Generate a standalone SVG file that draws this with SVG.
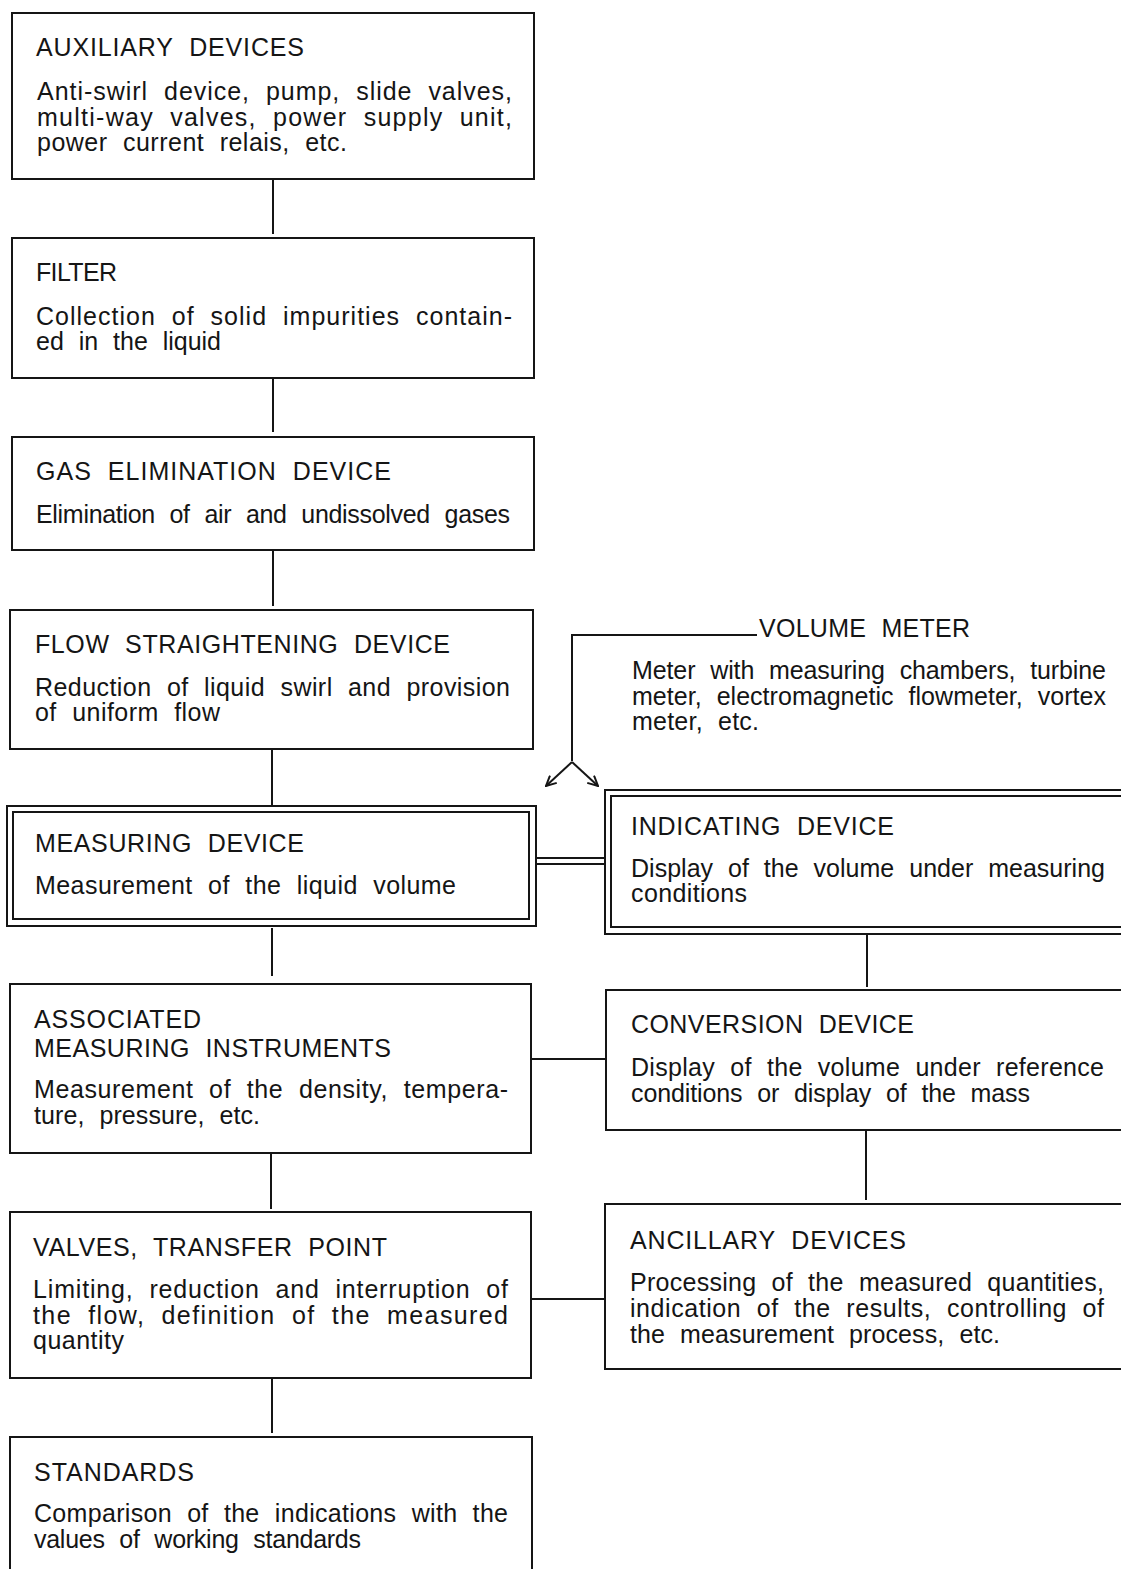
<svg xmlns="http://www.w3.org/2000/svg" width="1121" height="1569" viewBox="0 0 1121 1569">
<style>
.bx{fill:none;stroke:#151515;stroke-width:2}
.ln{fill:none;stroke:#151515;stroke-width:2}
.t{font-family:"Liberation Sans",Arial,sans-serif;font-size:25px;fill:#151515;word-spacing:8px}
</style>
<defs>
<marker id="ah" viewBox="0 0 12 12" refX="11" refY="6" markerWidth="12" markerHeight="12" markerUnits="userSpaceOnUse" orient="auto">
<path d="M1,1 L11,6 L1,11" fill="none" stroke="#151515" stroke-width="2"/>
</marker>
</defs>
<rect width="1121" height="1569" fill="#fff"/>

<g id="connectors">
<line class="ln" x1="273" y1="179" x2="273" y2="234"/>
<line class="ln" x1="273" y1="378" x2="273" y2="432"/>
<line class="ln" x1="273" y1="550" x2="273" y2="606"/>
<line class="ln" x1="272" y1="749" x2="272" y2="805"/>
<line class="ln" x1="272" y1="928" x2="272" y2="976"/>
<line class="ln" x1="271" y1="1153" x2="271" y2="1209"/>
<line class="ln" x1="272" y1="1378" x2="272" y2="1433"/>
<line class="ln" x1="535" y1="858" x2="605" y2="858" stroke-width="1.5"/>
<line class="ln" x1="535" y1="864" x2="605" y2="864" stroke-width="1.5"/>
<line class="ln" x1="867" y1="934" x2="867" y2="987"/>
<line class="ln" x1="866" y1="1130" x2="866" y2="1200"/>
<line class="ln" x1="531" y1="1059" x2="606" y2="1059"/>
<line class="ln" x1="531" y1="1299" x2="605" y2="1299"/>
<polyline class="ln" points="757,635 572,635 572,761"/>
<line class="ln" x1="572" y1="762" x2="546" y2="786" marker-end="url(#ah)"/>
<line class="ln" x1="572" y1="762" x2="598" y2="786" marker-end="url(#ah)"/>
</g>

<g id="auxiliary">
<rect class="bx" x="12" y="13" width="522" height="166"/>
<text class="t" x="36" y="56" textLength="268" lengthAdjust="spacing">AUXILIARY DEVICES</text>
<text class="t" x="37" y="100" textLength="475" lengthAdjust="spacing">Anti-swirl device, pump, slide valves,</text>
<text class="t" x="37" y="126" textLength="475" lengthAdjust="spacing">multi-way valves, power supply unit,</text>
<text class="t" x="37" y="151" textLength="310" lengthAdjust="spacing">power current relais, etc.</text>
</g>

<g id="filter">
<rect class="bx" x="12" y="238" width="522" height="140"/>
<text class="t" x="36" y="281" textLength="81" lengthAdjust="spacing">FILTER</text>
<text class="t" x="36" y="325" textLength="476" lengthAdjust="spacing">Collection of solid impurities contain-</text>
<text class="t" x="36" y="350" textLength="185" lengthAdjust="spacing">ed in the liquid</text>
</g>

<g id="gas">
<rect class="bx" x="12" y="437" width="522" height="113"/>
<text class="t" x="36" y="480" textLength="355" lengthAdjust="spacing">GAS ELIMINATION DEVICE</text>
<text class="t" x="36" y="523" textLength="474" lengthAdjust="spacing">Elimination of air and undissolved gases</text>
</g>

<g id="flow">
<rect class="bx" x="10" y="610" width="523" height="139"/>
<text class="t" x="35" y="653" textLength="415" lengthAdjust="spacing">FLOW STRAIGHTENING DEVICE</text>
<text class="t" x="35" y="696" textLength="475" lengthAdjust="spacing">Reduction of liquid swirl and provision</text>
<text class="t" x="35" y="721" textLength="185" lengthAdjust="spacing">of uniform flow</text>
</g>

<g id="measuring">
<rect class="bx" x="7" y="806" width="529" height="120" stroke-width="1.5"/>
<rect class="bx" x="13" y="812" width="516" height="107" stroke-width="1.5"/>
<text class="t" x="35" y="852" textLength="269" lengthAdjust="spacing">MEASURING DEVICE</text>
<text class="t" x="35" y="894" textLength="421" lengthAdjust="spacing">Measurement of the liquid volume</text>
</g>

<g id="volume-meter">
<text class="t" x="759" y="637" textLength="211" lengthAdjust="spacing">VOLUME METER</text>
<text class="t" x="632" y="679" textLength="474" lengthAdjust="spacing">Meter with measuring chambers, turbine</text>
<text class="t" x="632" y="705" textLength="474" lengthAdjust="spacing">meter, electromagnetic flowmeter, vortex</text>
<text class="t" x="632" y="730" textLength="127" lengthAdjust="spacing">meter, etc.</text>
</g>

<g id="indicating">
<rect class="bx" x="605" y="790" width="530" height="144" stroke-width="1.5"/>
<rect class="bx" x="611" y="796" width="520" height="131" stroke-width="1.5"/>
<text class="t" x="631" y="835" textLength="263" lengthAdjust="spacing">INDICATING DEVICE</text>
<text class="t" x="631" y="877" textLength="474" lengthAdjust="spacing">Display of the volume under measuring</text>
<text class="t" x="631" y="902" textLength="116" lengthAdjust="spacing">conditions</text>
</g>

<g id="conversion">
<rect class="bx" x="606" y="990" width="530" height="140"/>
<text class="t" x="631" y="1033" textLength="283" lengthAdjust="spacing">CONVERSION DEVICE</text>
<text class="t" x="631" y="1076" textLength="473" lengthAdjust="spacing">Display of the volume under reference</text>
<text class="t" x="631" y="1102" textLength="399" lengthAdjust="spacing">conditions or display of the mass</text>
</g>

<g id="associated">
<rect class="bx" x="10" y="984" width="521" height="169"/>
<text class="t" x="34" y="1028" textLength="167" lengthAdjust="spacing">ASSOCIATED</text>
<text class="t" x="34" y="1057" textLength="357" lengthAdjust="spacing">MEASURING INSTRUMENTS</text>
<text class="t" x="34" y="1098" textLength="474" lengthAdjust="spacing">Measurement of the density, tempera-</text>
<text class="t" x="34" y="1124" textLength="226" lengthAdjust="spacing">ture, pressure, etc.</text>
</g>

<g id="ancillary">
<rect class="bx" x="605" y="1204" width="530" height="165"/>
<text class="t" x="630" y="1249" textLength="276" lengthAdjust="spacing">ANCILLARY DEVICES</text>
<text class="t" x="630" y="1291" textLength="474" lengthAdjust="spacing">Processing of the measured quantities,</text>
<text class="t" x="630" y="1317" textLength="474" lengthAdjust="spacing">indication of the results, controlling of</text>
<text class="t" x="630" y="1343" textLength="370" lengthAdjust="spacing">the measurement process, etc.</text>
</g>

<g id="valves">
<rect class="bx" x="10" y="1212" width="521" height="166"/>
<text class="t" x="33" y="1256" textLength="354" lengthAdjust="spacing">VALVES, TRANSFER POINT</text>
<text class="t" x="33" y="1298" textLength="475" lengthAdjust="spacing">Limiting, reduction and interruption of</text>
<text class="t" x="33" y="1324" textLength="475" lengthAdjust="spacing">the flow, definition of the measured</text>
<text class="t" x="33" y="1349" textLength="91" lengthAdjust="spacing">quantity</text>
</g>

<g id="standards">
<rect class="bx" x="10" y="1437" width="522" height="150"/>
<text class="t" x="34" y="1481" textLength="160" lengthAdjust="spacing">STANDARDS</text>
<text class="t" x="34" y="1522" textLength="474" lengthAdjust="spacing">Comparison of the indications with the</text>
<text class="t" x="34" y="1548" textLength="327" lengthAdjust="spacing">values of working standards</text>
</g>
</svg>
